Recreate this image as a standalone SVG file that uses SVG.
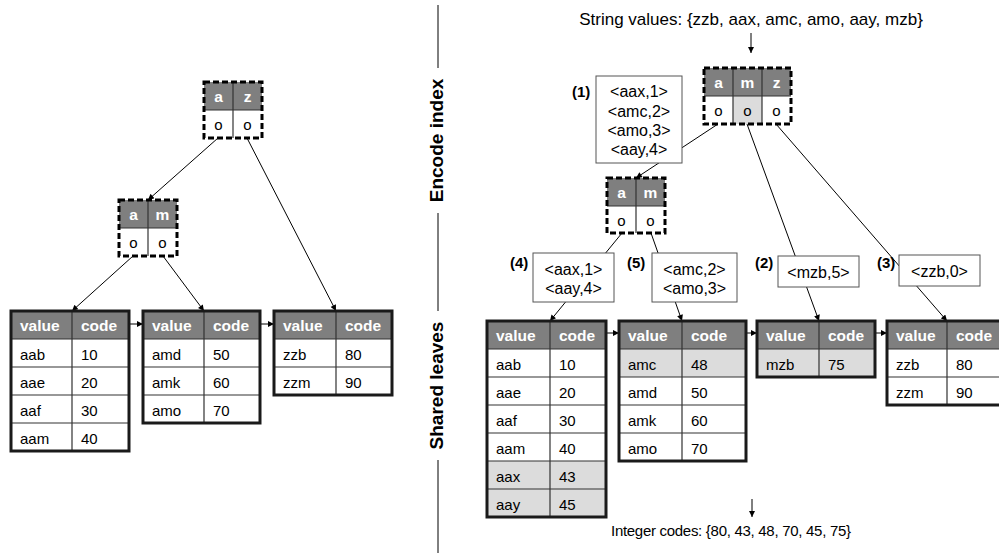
<svg xmlns="http://www.w3.org/2000/svg" width="999" height="558" viewBox="0 0 999 558">
<defs>
<marker id="ah" viewBox="0 0 10 10" refX="10" refY="5" markerWidth="7" markerHeight="6" orient="auto" markerUnits="userSpaceOnUse"><path d="M0,0 L10,5 L0,10 z" fill="#000"/></marker>
<style>
text { font-family: "Liberation Sans", Arial, Helvetica, sans-serif; }
.hd { fill: #7f7f7f; }
.hl { fill: #dcdcdc; }
.wh { fill: #ffffff; }
.tb { fill: none; stroke: #1a1a1a; stroke-width: 3; }
.grid { stroke: #333; stroke-width: 1.2; fill: none; }
.ht { font-weight: bold; fill: #ffffff; font-size: 15.5px; }
.hc { font-weight: bold; fill: #ffffff; font-size: 15.5px; text-anchor: middle; }
.ct { font-size: 15px; fill: #000; }
.oc { font-size: 15px; fill: #000; text-anchor: middle; }
.dash { fill: none; stroke: #000; stroke-width: 3; stroke-dasharray: 6 3; }
.box { fill: #ffffff; stroke: #555; stroke-width: 1; }
.bt { font-size: 16px; text-anchor: middle; fill: #000; }
.lb { font-size: 15px; font-weight: bold; fill: #000; }
.edge { stroke: #000; stroke-width: 1; fill: none; }
.arr { stroke: #000; stroke-width: 1; fill: none; marker-end: url(#ah); }
.side { font-size: 19px; font-weight: bold; text-anchor: middle; fill: #000; }
.cap { font-size: 17px; text-anchor: middle; fill: #000; }
</style>
</defs>
<rect x="0" y="0" width="999" height="558" fill="#ffffff"/>

<g id="connectors">
  <line class="arr" x1="218" y1="138" x2="148" y2="200"/>
  <line class="arr" x1="247" y1="138" x2="336" y2="311"/>
  <line class="arr" x1="133" y1="256" x2="72" y2="311"/>
  <line class="arr" x1="163" y1="256" x2="204" y2="311"/>
  <line class="arr" x1="129" y1="324" x2="143" y2="324"/>
  <line class="arr" x1="260" y1="324" x2="274" y2="324"/>
  <line class="arr" x1="751" y1="33" x2="751" y2="53"/>
  <line class="arr" x1="718" y1="124" x2="636" y2="178"/>
  <line class="arr" x1="747" y1="124" x2="819" y2="321"/>
  <line class="arr" x1="776" y1="124" x2="947" y2="321"/>
  <line class="arr" x1="622" y1="233" x2="550" y2="321"/>
  <line class="arr" x1="651" y1="233" x2="682" y2="321"/>
  <line class="arr" x1="606" y1="333" x2="619" y2="333"/>
  <line class="arr" x1="746" y1="333" x2="757" y2="333"/>
  <line class="arr" x1="875" y1="333" x2="887" y2="333"/>
  <line class="arr" x1="752" y1="499" x2="752" y2="517"/>
</g>

<g id="divider">
  <line class="edge" x1="438" y1="5" x2="438" y2="68"/>
  <line class="edge" x1="438" y1="213" x2="438" y2="311"/>
  <line class="edge" x1="438" y1="460" x2="438" y2="553"/>
  <text class="side" transform="translate(443,140.5) rotate(-90)">Encode index</text>
  <text class="side" transform="translate(443,385.5) rotate(-90)">Shared leaves</text>
</g>

<!-- Left index nodes -->
<g id="L-root">
  <rect class="hd" x="204" y="82" width="58" height="28"/>
  <rect class="wh" x="204" y="110" width="58" height="28"/>
  <line class="grid" x1="233" y1="82" x2="233" y2="138"/>
  <line class="grid" x1="204" y1="110" x2="262" y2="110"/>
  <rect class="dash" x="204" y="82" width="58" height="56"/>
  <text class="hc" x="218.5" y="102">a</text>
  <text class="hc" x="247.5" y="102">z</text>
  <text class="oc" x="218.5" y="130">o</text>
  <text class="oc" x="247.5" y="130">o</text>
</g>
<g id="L-inner">
  <rect class="hd" x="119" y="200" width="58" height="28"/>
  <rect class="wh" x="119" y="228" width="58" height="28"/>
  <line class="grid" x1="148" y1="200" x2="148" y2="256"/>
  <line class="grid" x1="119" y1="228" x2="177" y2="228"/>
  <rect class="dash" x="119" y="200" width="58" height="56"/>
  <text class="hc" x="133.5" y="220">a</text>
  <text class="hc" x="162.5" y="220">m</text>
  <text class="oc" x="133.5" y="248">o</text>
  <text class="oc" x="162.5" y="248">o</text>
</g>

<!-- Left leaves -->
<g id="L-leaf1">
  <rect class="wh" x="11" y="311" width="118" height="140"/>
  <rect class="hd" x="11" y="311" width="118" height="28"/>
  <path class="grid" d="M11,339H129M11,367H129M11,395H129M11,423H129M72,311V451"/>
  <rect class="tb" x="11" y="311" width="118" height="140"/>
  <text class="ht" x="20" y="331">value</text><text class="ht" x="81" y="331">code</text>
  <text class="ct" x="20" y="360">aab</text><text class="ct" x="81" y="360">10</text>
  <text class="ct" x="20" y="388">aae</text><text class="ct" x="81" y="388">20</text>
  <text class="ct" x="20" y="416">aaf</text><text class="ct" x="81" y="416">30</text>
  <text class="ct" x="20" y="444">aam</text><text class="ct" x="81" y="444">40</text>
</g>
<g id="L-leaf2">
  <rect class="wh" x="143" y="311" width="117" height="112"/>
  <rect class="hd" x="143" y="311" width="117" height="28"/>
  <path class="grid" d="M143,339H260M143,367H260M143,395H260M204,311V423"/>
  <rect class="tb" x="143" y="311" width="117" height="112"/>
  <text class="ht" x="152" y="331">value</text><text class="ht" x="213" y="331">code</text>
  <text class="ct" x="152" y="360">amd</text><text class="ct" x="213" y="360">50</text>
  <text class="ct" x="152" y="388">amk</text><text class="ct" x="213" y="388">60</text>
  <text class="ct" x="152" y="416">amo</text><text class="ct" x="213" y="416">70</text>
</g>
<g id="L-leaf3">
  <rect class="wh" x="274" y="311" width="118" height="84"/>
  <rect class="hd" x="274" y="311" width="118" height="28"/>
  <path class="grid" d="M274,339H392M274,367H392M336,311V395"/>
  <rect class="tb" x="274" y="311" width="118" height="84"/>
  <text class="ht" x="283" y="331">value</text><text class="ht" x="345" y="331">code</text>
  <text class="ct" x="283" y="360">zzb</text><text class="ct" x="345" y="360">80</text>
  <text class="ct" x="283" y="388">zzm</text><text class="ct" x="345" y="388">90</text>
</g>

<!-- Right side -->
<g id="input">
  <text class="cap" x="751" y="25">String values: {zzb, aax, amc, amo, aay, mzb}</text>
</g>
<g id="R-root">
  <rect class="hd" x="704" y="68" width="87" height="28"/>
  <rect class="wh" x="704" y="96" width="87" height="28"/>
  <rect class="hl" x="733" y="96" width="29" height="28"/>
  <path class="grid" d="M733,68V124M762,68V124M704,96H791"/>
  <rect class="dash" x="704" y="68" width="87" height="56"/>
  <text class="hc" x="718.5" y="88">a</text>
  <text class="hc" x="747.5" y="88">m</text>
  <text class="hc" x="776.5" y="88">z</text>
  <text class="oc" x="718.5" y="116">o</text>
  <text class="oc" x="747.5" y="116">o</text>
  <text class="oc" x="776.5" y="116">o</text>
</g>
<g id="buf1">
  <rect class="box" x="596" y="76" width="86" height="87"/>
  <text class="bt" x="639" y="97">&lt;aax,1&gt;</text>
  <text class="bt" x="639" y="117">&lt;amc,2&gt;</text>
  <text class="bt" x="639" y="136">&lt;amo,3&gt;</text>
  <text class="bt" x="639" y="155">&lt;aay,4&gt;</text>
  <text class="lb" x="572" y="97">(1)</text>
</g>
<g id="R-inner">
  <rect class="hd" x="607" y="178" width="58" height="28"/>
  <rect class="wh" x="607" y="206" width="58" height="27"/>
  <path class="grid" d="M636,178V233M607,206H665"/>
  <rect class="dash" x="607" y="178" width="58" height="55"/>
  <text class="hc" x="621.5" y="198">a</text>
  <text class="hc" x="650.5" y="198">m</text>
  <text class="oc" x="621.5" y="226">o</text>
  <text class="oc" x="650.5" y="226">o</text>
</g>
<g id="buf4">
  <rect class="box" x="533" y="253" width="81" height="49"/>
  <text class="bt" x="573.5" y="275">&lt;aax,1&gt;</text>
  <text class="bt" x="573.5" y="294">&lt;aay,4&gt;</text>
  <text class="lb" x="510" y="268">(4)</text>
</g>
<g id="buf5">
  <rect class="box" x="652" y="253" width="85" height="49"/>
  <text class="bt" x="694.5" y="275">&lt;amc,2&gt;</text>
  <text class="bt" x="694.5" y="294">&lt;amo,3&gt;</text>
  <text class="lb" x="627" y="268">(5)</text>
</g>
<g id="buf2">
  <rect class="box" x="778" y="256" width="81" height="31"/>
  <text class="bt" x="818.5" y="278">&lt;mzb,5&gt;</text>
  <text class="lb" x="755" y="268">(2)</text>
</g>
<g id="buf3">
  <rect class="box" x="899" y="255" width="81" height="31"/>
  <text class="bt" x="939.5" y="277">&lt;zzb,0&gt;</text>
  <text class="lb" x="877" y="268">(3)</text>
</g>

<g id="R-leafA">
  <rect class="wh" x="487" y="321" width="119" height="196"/>
  <rect class="hd" x="487" y="321" width="119" height="28"/>
  <rect class="hl" x="487" y="461" width="119" height="56"/>
  <path class="grid" d="M487,349H606M487,377H606M487,405H606M487,433H606M487,461H606M487,489H606M550,321V517"/>
  <rect class="tb" x="487" y="321" width="119" height="196"/>
  <text class="ht" x="496" y="341">value</text><text class="ht" x="559" y="341">code</text>
  <text class="ct" x="496" y="370">aab</text><text class="ct" x="559" y="370">10</text>
  <text class="ct" x="496" y="398">aae</text><text class="ct" x="559" y="398">20</text>
  <text class="ct" x="496" y="426">aaf</text><text class="ct" x="559" y="426">30</text>
  <text class="ct" x="496" y="454">aam</text><text class="ct" x="559" y="454">40</text>
  <text class="ct" x="496" y="482">aax</text><text class="ct" x="559" y="482">43</text>
  <text class="ct" x="496" y="510">aay</text><text class="ct" x="559" y="510">45</text>
</g>
<g id="R-leafB">
  <rect class="wh" x="619" y="321" width="127" height="140"/>
  <rect class="hd" x="619" y="321" width="127" height="28"/>
  <rect class="hl" x="619" y="349" width="127" height="28"/>
  <path class="grid" d="M619,349H746M619,377H746M619,405H746M619,433H746M682,321V461"/>
  <rect class="tb" x="619" y="321" width="127" height="140"/>
  <text class="ht" x="628" y="341">value</text><text class="ht" x="691" y="341">code</text>
  <text class="ct" x="628" y="370">amc</text><text class="ct" x="691" y="370">48</text>
  <text class="ct" x="628" y="398">amd</text><text class="ct" x="691" y="398">50</text>
  <text class="ct" x="628" y="426">amk</text><text class="ct" x="691" y="426">60</text>
  <text class="ct" x="628" y="454">amo</text><text class="ct" x="691" y="454">70</text>
</g>
<g id="R-leafC">
  <rect class="hd" x="757" y="321" width="118" height="28"/>
  <rect class="hl" x="757" y="349" width="118" height="28"/>
  <path class="grid" d="M757,349H875M819,321V377"/>
  <rect class="tb" x="757" y="321" width="118" height="56"/>
  <text class="ht" x="766" y="341">value</text><text class="ht" x="828" y="341">code</text>
  <text class="ct" x="766" y="370">mzb</text><text class="ct" x="828" y="370">75</text>
</g>
<g id="R-leafD">
  <rect class="wh" x="887" y="321" width="118" height="84"/>
  <rect class="hd" x="887" y="321" width="118" height="28"/>
  <path class="grid" d="M887,349H1005M887,377H1005M947,321V405"/>
  <rect class="tb" x="887" y="321" width="118" height="84"/>
  <text class="ht" x="896" y="341">value</text><text class="ht" x="956" y="341">code</text>
  <text class="ct" x="896" y="370">zzb</text><text class="ct" x="956" y="370">80</text>
  <text class="ct" x="896" y="398">zzm</text><text class="ct" x="956" y="398">90</text>
</g>
<g id="output">
  <text class="cap" x="731" y="536" style="font-size:15px" textLength="240" lengthAdjust="spacing">Integer codes: {80, 43, 48, 70, 45, 75}</text>
</g>
</svg>
